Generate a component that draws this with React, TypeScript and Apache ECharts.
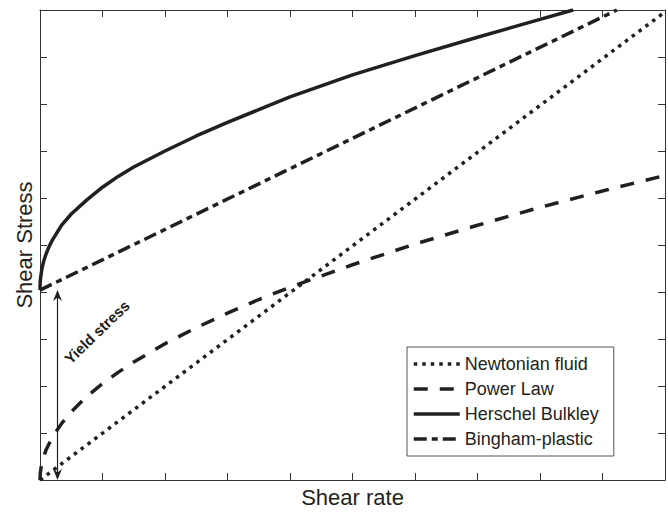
import React, { useEffect, useRef } from "react";
import * as echarts from "echarts";

// ---- data ----
const seriesNames = ["Newtonian fluid", "Power Law", "Herschel Bulkley", "Bingham-plastic"];

const newtonianX = [0, 10];
const newtonianY = [0, 9.96];

const powerX = [0, 0.005, 0.02, 0.05, 0.1, 0.2, 0.35, 0.5, 0.75, 1, 1.25, 1.5, 2, 2.5, 3, 3.5, 4, 5, 6, 7, 8, 9, 10];
const powerY = [0, 0.15, 0.29, 0.46, 0.65, 0.92, 1.21, 1.45, 1.78, 2.05, 2.29, 2.51, 2.9, 3.24, 3.55, 3.84, 4.1, 4.58, 5.02, 5.42, 5.8, 6.15, 6.48];

const hbX = [0, 0.003, 0.01, 0.03, 0.06, 0.1, 0.15, 0.2, 0.35, 0.5, 0.75, 1, 1.25, 1.5, 2, 2.5, 3, 3.5, 4, 5, 6, 7, 8, 8.53];
const hbY = [4.04, 4.2, 4.31, 4.49, 4.66, 4.82, 4.98, 5.11, 5.43, 5.66, 5.96, 6.23, 6.46, 6.66, 7.0, 7.32, 7.61, 7.88, 8.15, 8.62, 9.03, 9.42, 9.8, 10.0];

const binghamX = [0, 9.23];
const binghamY = [4.04, 10];

const axisMin = 0;
const axisMax = 10;
const axisInterval = 1;

// annotation
const yieldStress = 4.04;
const arrowX = 0.28;
const yieldLabel = "Yield stress";
const yieldLabelPos = [0.91, 3.15];

const xName = "Shear rate";
const yName = "Shear Stress";

const INK = "#231f20";
const FONT = "'Liberation Sans', Arial, Helvetica, sans-serif";

const zip = (xs: number[], ys: number[]) => xs.map((x, i) => [x, ys[i]]);

export default function App() {
  const ref = useRef<HTMLDivElement>(null);

  useEffect(() => {
    if (!ref.current) return;
    const chart = echarts.init(ref.current, undefined, { renderer: "svg" });

    const axisCommon = {
      type: "value" as const,
      min: axisMin,
      max: axisMax,
      interval: axisInterval,
      axisLine: { show: true, onZero: false, lineStyle: { color: "#333", width: 1 } },
      axisTick: { show: true, inside: true, length: 7, lineStyle: { color: "#333", width: 1 } },
      axisLabel: { show: false },
      splitLine: { show: false },
    };

    const nameStyle = { fontSize: 22, color: INK, fontFamily: FONT };

    chart.setOption({
      animation: false,
      backgroundColor: "#fff",
      grid: { left: 40, right: 3, top: 10, bottom: 35 },
      xAxis: [
        { ...axisCommon, position: "bottom", name: xName, nameLocation: "middle", nameGap: 6, nameTextStyle: { ...nameStyle, verticalAlign: "top" } },
        { ...axisCommon, position: "top" },
      ],
      yAxis: [
        { ...axisCommon, position: "left", name: yName, nameLocation: "middle", nameGap: 5, nameTextStyle: nameStyle },
        { ...axisCommon, position: "right" },
      ],
      legend: {
        data: seriesNames,
        orient: "vertical",
        left: 407,
        top: 347,
        padding: [8, 15, 8, 5],
        itemGap: 7,
        itemWidth: 46,
        itemHeight: 14,
        backgroundColor: "#fff",
        borderColor: "#555",
        borderWidth: 1,
        borderRadius: 0,
        itemStyle: { color: "rgba(0,0,0,0)", borderWidth: 0, opacity: 0 },
        lineStyle: { width: 3.5 },
        textStyle: { fontSize: 18, color: INK, fontFamily: FONT },
      },
      series: [
        {
          name: seriesNames[0],
          type: "line",
          data: zip(newtonianX, newtonianY),
          symbol: "none",
          lineStyle: { color: INK, width: 3.5, type: [3.5, 5], cap: "butt" },
          itemStyle: { color: INK },
          z: 3,
        },
        {
          name: seriesNames[1],
          type: "line",
          data: zip(powerX, powerY),
          symbol: "none",
          lineStyle: { color: INK, width: 3.5, type: [14, 12], cap: "butt" },
          itemStyle: { color: INK },
          z: 3,
        },
        {
          name: seriesNames[2],
          type: "line",
          data: zip(hbX, hbY),
          symbol: "none",
          lineStyle: { color: INK, width: 3.5, type: "solid", join: "round" },
          itemStyle: { color: INK },
          z: 3,
        },
        {
          name: seriesNames[3],
          type: "line",
          data: zip(binghamX, binghamY),
          symbol: "none",
          lineStyle: { color: INK, width: 3.5, type: [13, 5, 6, 5], cap: "butt" },
          itemStyle: { color: INK },
          z: 3,
        },
      ],
    });

    // annotation: yield stress arrow + label
    const p0 = chart.convertToPixel({ gridIndex: 0 }, [arrowX, 0]) as number[];
    const p1 = chart.convertToPixel({ gridIndex: 0 }, [arrowX, yieldStress]) as number[];
    const lp = chart.convertToPixel({ gridIndex: 0 }, yieldLabelPos) as number[];
    const ax = p0[0];
    const head = (tipY: number, dir: number) => ({
      type: "polygon",
      shape: {
        points: [
          [ax, tipY],
          [ax - 4.5, tipY + dir * 11],
          [ax, tipY + dir * 7.5],
          [ax + 4.5, tipY + dir * 11],
        ],
      },
      style: { fill: INK },
      z: 10,
    });
    chart.setOption({
      graphic: [
        {
          type: "line",
          shape: { x1: ax, y1: p1[1] + 5, x2: ax, y2: p0[1] - 5 },
          style: { stroke: INK, lineWidth: 1.2 },
          z: 10,
        },
        head(p1[1], 1),
        head(p0[1], -1),
        {
          type: "text",
          x: lp[0],
          y: lp[1],
          rotation: (44 * Math.PI) / 180,
          style: {
            text: yieldLabel,
            fontSize: 15,
            fontWeight: "bold",
            fontFamily: FONT,
            fill: INK,
            align: "center",
            verticalAlign: "middle",
          },
          z: 10,
        },
      ],
    });

    return () => chart.dispose();
  }, []);

  return <div ref={ref} style={{ position: "absolute", left: 0, top: 0, width: 668, height: 515 }} />;
}
